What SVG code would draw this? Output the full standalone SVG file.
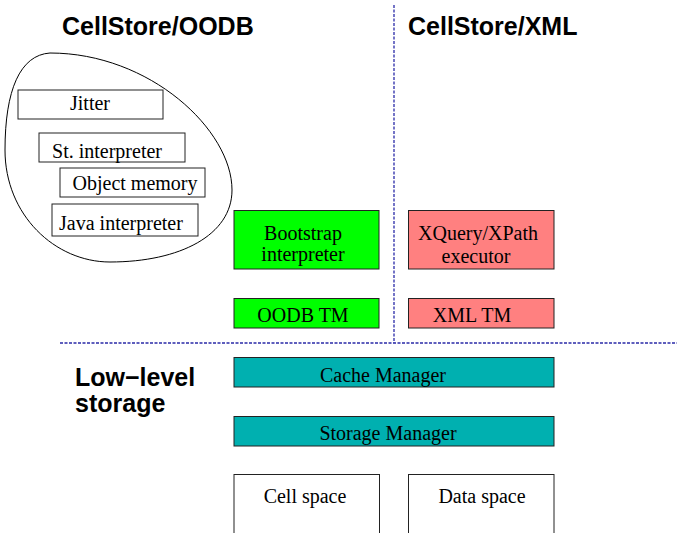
<svg xmlns="http://www.w3.org/2000/svg" width="677" height="533" viewBox="0 0 677 533">
<style>
.box{stroke:#222;stroke-width:1}
.w{fill:#fff}
.g{fill:#00ff00}
.p{fill:#ff8080}
.t{fill:#00b0b0}
.lbl{font-family:"Liberation Serif",serif;font-size:20px;fill:#000}
.c{text-anchor:middle}
.title{font-family:"Liberation Sans",Arial,sans-serif;font-weight:bold;font-size:25px;fill:#000}
.sep{stroke:#2a2aa8;stroke-width:1.3;stroke-dasharray:3,1.5;fill:none}
</style>
<rect width="677" height="533" fill="#fff"/>
<g id="titles">
<text class="title" x="62" y="35">CellStore/OODB</text>
<text class="title" x="408" y="35">CellStore/XML</text>
<text class="title" x="75" y="386">Low−level</text>
<text class="title" x="75" y="412">storage</text>
</g>
<g id="connectors">
<line class="sep" x1="394" y1="5" x2="394" y2="343"/>
<line class="sep" x1="60" y1="343" x2="677" y2="343"/>
</g>
<g id="vm-blob">
<path d="M 50,53 C 20,55 5,90 5,150 C 5,215 55,262 110,262 C 180,262 232,235 232,190 C 232,130 150,53 50,53 Z" fill="none" stroke="#000" stroke-width="1"/>
</g>
<g id="jitter"><rect class="box w" x="18" y="90" width="145" height="29"/><text class="lbl c" x="90" y="110">Jitter</text></g>
<g id="st-interpreter"><rect class="box w" x="39" y="133" width="146" height="29"/><text class="lbl c" x="107" y="158">St. interpreter</text></g>
<g id="object-memory"><rect class="box w" x="60" y="168" width="145" height="29"/><text class="lbl c" x="135" y="190">Object memory</text></g>
<g id="java-interpreter"><rect class="box w" x="52" y="204" width="146" height="32"/><text class="lbl c" x="121" y="230">Java interpreter</text></g>
<g id="bootstrap"><rect class="box g" x="234" y="210.5" width="145" height="58.5"/><text class="lbl c" x="303" y="240">Bootstrap</text><text class="lbl c" x="303" y="261">interpreter</text></g>
<g id="xquery"><rect class="box p" x="408.5" y="210.5" width="145.5" height="58.5"/><text class="lbl c" x="478" y="240">XQuery/XPath</text><text class="lbl c" x="476" y="263">executor</text></g>
<g id="oodb-tm"><rect class="box g" x="234" y="298.5" width="145" height="29.5"/><text class="lbl c" x="303" y="322">OODB TM</text></g>
<g id="xml-tm"><rect class="box p" x="408.5" y="298.5" width="145.5" height="29.5"/><text class="lbl c" x="472" y="322">XML TM</text></g>
<g id="cache-manager"><rect class="box t" x="234" y="357.5" width="320" height="29.5"/><text class="lbl c" x="383" y="382">Cache Manager</text></g>
<g id="storage-manager"><rect class="box t" x="234" y="416.5" width="320" height="29.5"/><text class="lbl c" x="388" y="440">Storage Manager</text></g>
<g id="cell-space"><rect class="box w" x="234" y="474.5" width="145.5" height="62"/><text class="lbl c" x="305" y="503">Cell space</text></g>
<g id="data-space"><rect class="box w" x="408.5" y="474.5" width="145.5" height="62"/><text class="lbl c" x="482" y="503">Data space</text></g>
</svg>
